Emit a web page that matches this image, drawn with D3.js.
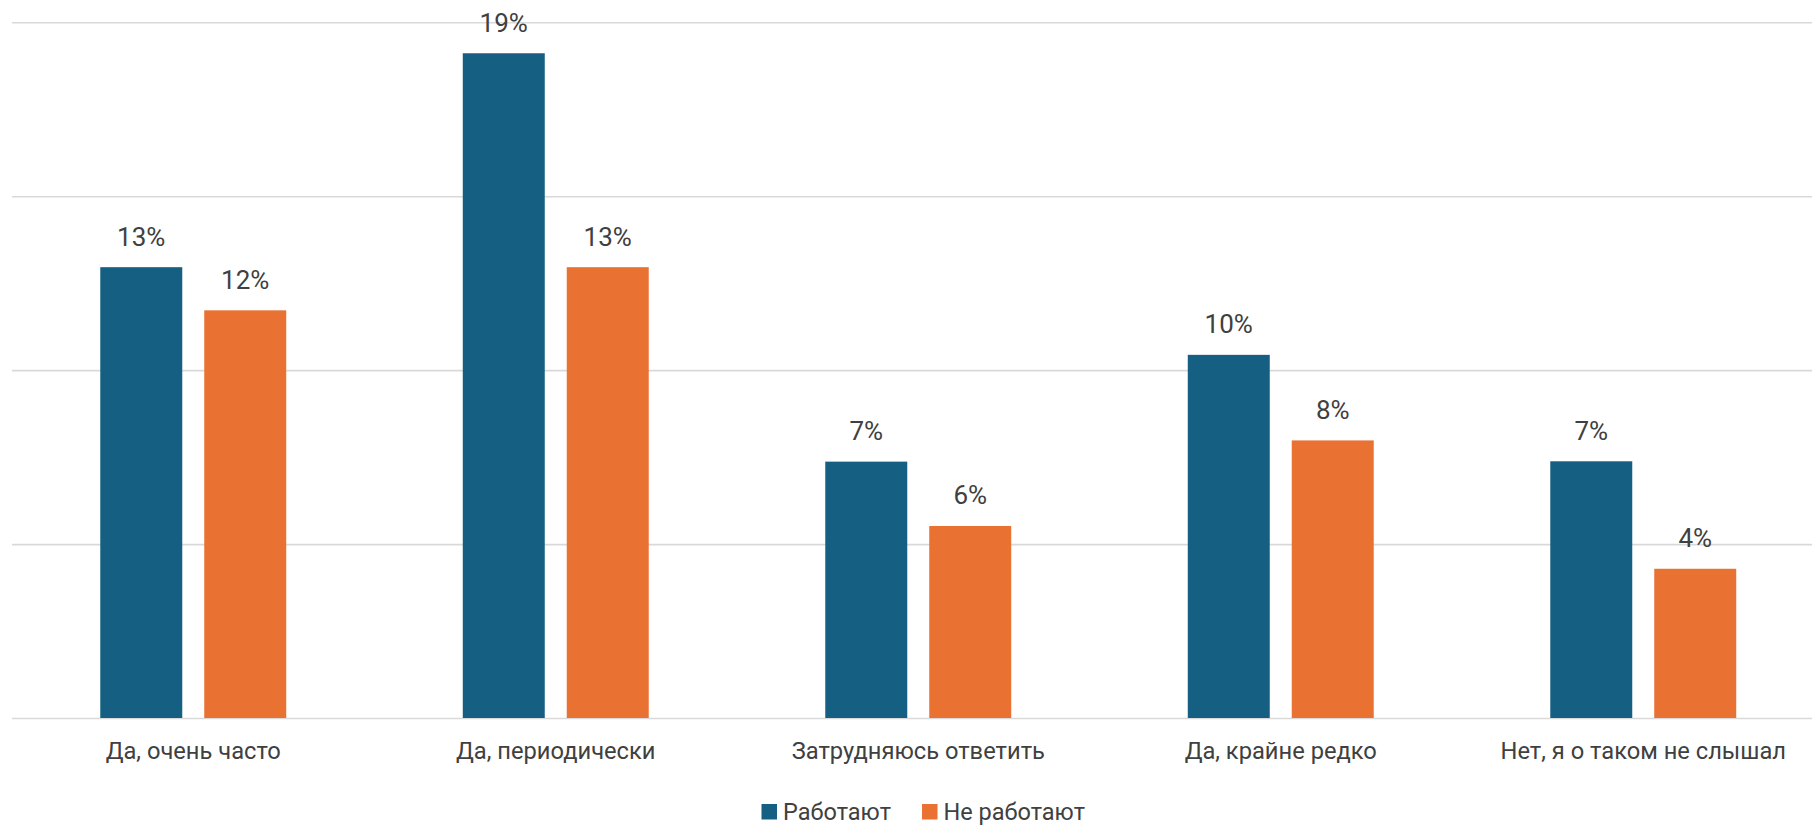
<!DOCTYPE html>
<html>
<head>
<meta charset="utf-8">
<script src="https://cdn.jsdelivr.net/npm/d3@7"></script>
<style>
  html, body { margin: 0; padding: 0; background: #fff; }
  svg { display: block; font-family: Roboto, "Noto Sans", sans-serif; }
</style>
</head>
<body>
<svg id="chart" width="1812" height="826"></svg>
<script>
const categories = ["Да, очень часто", "Да, периодически", "Затрудняюсь ответить", "Да, крайне редко", "Нет, я о таком не слышал"];
const seriesNames = ["Работают", "Не работают"];
const working = [12.96, 19.11, 7.37, 10.44, 7.38];
const notWorking = [11.72, 12.96, 5.52, 7.98, 4.29];
const gridTicks = [0, 5, 10, 15, 20];

const colors = ["#156082", "#E97132"];
const textColor = "#404040";

const width = 1812;
const height = 826;
const plotLeft = 12;
const plotRight = 1824.5;
const plotTop = 22.3;
const plotBottom = 718;

const svg = d3.select("#chart");

const rows = categories.map((c, i) => ({ cat: c, values: [working[i], notWorking[i]] }));

const x0 = d3.scaleBand()
    .domain(categories)
    .range([plotLeft, plotRight])
    .paddingInner(0.487)
    .paddingOuter(0.2435);

const x1 = d3.scaleBand()
    .domain(seriesNames)
    .range([0, x0.bandwidth()])
    .paddingInner(0.2115);

const y = d3.scaleLinear()
    .domain([0, 20])
    .range([plotBottom, plotTop]);

// gridlines
const grid = svg.append("g")
    .attr("transform", `translate(${plotLeft},0)`)
    .call(d3.axisLeft(y).tickValues(gridTicks).tickSize(-(width - plotLeft)).tickFormat(""));
grid.select(".domain").remove();
grid.selectAll("line").attr("stroke", "#d9d9d9").attr("stroke-width", 1.6);

// bars
const groups = svg.append("g")
    .selectAll("g")
    .data(rows)
    .join("g")
    .attr("transform", d => `translate(${x0(d.cat)},0)`);

groups.selectAll("rect")
    .data(d => d.values.map((v, i) => ({ name: seriesNames[i], v: v, i: i })))
    .join("rect")
    .attr("x", d => x1(d.name))
    .attr("y", d => y(d.v))
    .attr("width", x1.bandwidth())
    .attr("height", d => y(0) - y(d.v))
    .attr("fill", d => colors[d.i]);

groups.selectAll("text")
    .data(d => d.values.map((v, i) => ({ name: seriesNames[i], v: v })))
    .join("text")
    .attr("x", d => x1(d.name) + x1.bandwidth() / 2)
    .attr("y", d => y(d.v) - 21.6)
    .attr("text-anchor", "middle")
    .attr("font-size", 26)
    .attr("fill", textColor)
    .text(d => Math.round(d.v) + "%");

// category axis
const xAxis = svg.append("g")
    .attr("transform", `translate(0,${plotBottom})`)
    .call(d3.axisBottom(x0).tickSize(0).tickPadding(24.5));
xAxis.select(".domain").remove();
xAxis.selectAll("text")
    .attr("font-size", 23.7)
    .attr("font-family", "Roboto, 'Noto Sans', sans-serif")
    .attr("fill", textColor);

// legend
const legend = svg.append("g");
const items = legend.selectAll("g")
    .data(seriesNames)
    .join("g");
items.append("rect")
    .attr("width", 15.5)
    .attr("height", 15.5)
    .attr("y", -15.5)
    .attr("fill", (d, i) => colors[i]);
items.append("text")
    .attr("x", 21.5)
    .attr("font-size", 23.5)
    .attr("fill", textColor)
    .text(d => d);

let offset = 0;
const gap = 31;
items.each(function () {
    const w = this.getBBox().width;
    d3.select(this).attr("transform", `translate(${offset},0)`);
    offset += w + gap;
});
const total = offset - gap;
legend.attr("transform", `translate(${923.3 - total / 2},819.5)`);
</script>
</body>
</html>
